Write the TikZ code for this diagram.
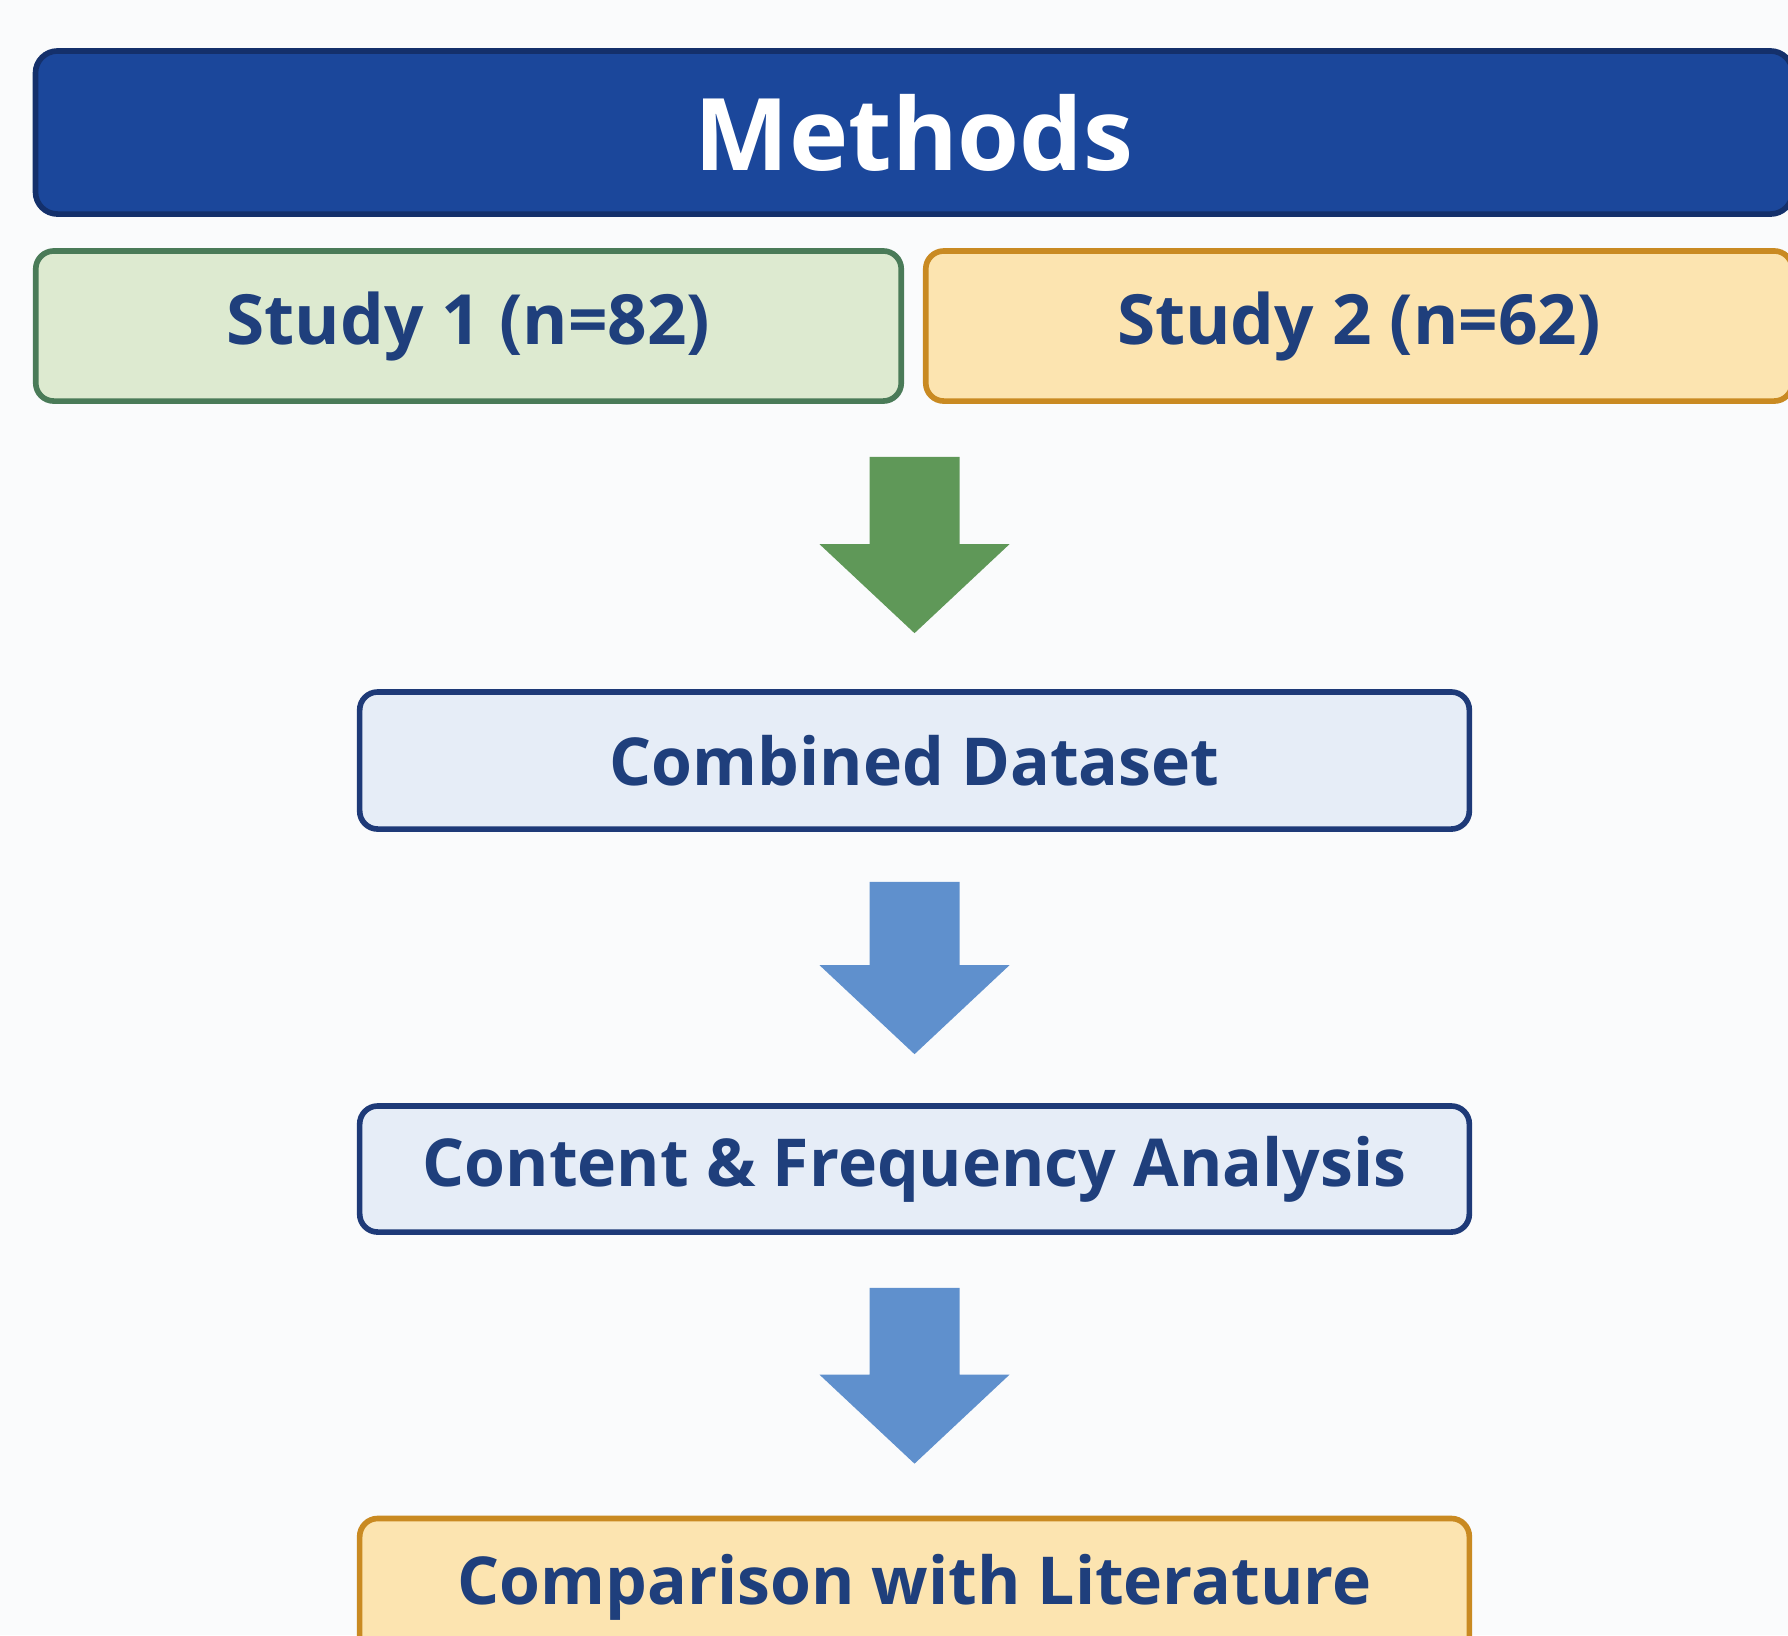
\documentclass[tikz,border=0pt]{standalone}
\usepackage{fontspec}
\setmainfont{Open Sans}
\usetikzlibrary{calc}

\definecolor{pagebg}{HTML}{FAFBFC}
\definecolor{headblue}{HTML}{1B479B}
\definecolor{headline}{HTML}{14306B}
\definecolor{textblue}{HTML}{1F3F7C}
\definecolor{greenfill}{HTML}{DDEAD0}
\definecolor{greenline}{HTML}{4A7B58}
\definecolor{orangefill}{HTML}{FCE4B0}
\definecolor{orangeline}{HTML}{C98A22}
\definecolor{stepfill}{HTML}{E6EDF7}
\definecolor{stepline}{HTML}{1E3A78}
\definecolor{greenarrow}{HTML}{5F9858}
\definecolor{bluearrow}{HTML}{5F90CD}

\tikzset{
	box/.style={draw, line width=1.6pt, rounded corners=0.18cm, inner sep=0pt,
		text=textblue, font=\bfseries\fontsize{18.8}{22}\selectfont},
	headbox/.style={box, fill=headblue, draw=headline, text=white,
		rounded corners=0.22cm, font=\bfseries\fontsize{28.5}{34}\selectfont},
	studybox/.style={box, minimum width=8.65cm, minimum height=1.5cm,
		font=\bfseries\fontsize{19.7}{24}\selectfont},
	stepbox/.style={box, fill=stepfill, draw=stepline, minimum width=11.09cm}
}

% block arrow: colour, top of shaft, tip
\newcommand{\blockarrow}[3]{%
	\fill[#1] ($(#2)+(-45,0)$) -- ($(#2)+(45,0)$) -- ($(#3)+(45,-89)$)
		-- ($(#3)+(95,-89)$) -- (#3) -- ($(#3)+(-95,-89)$)
		-- ($(#3)+(-45,-89)$) -- cycle;}

\begin{document}
\begin{tikzpicture}[x=0.01cm, y=-0.01cm]
\useasboundingbox (0,0) rectangle (1788,1635);
\clip (0,0) rectangle (1788,1635);
\fill[pagebg] (0,0) rectangle (1788,1635);

\node[headbox, minimum width=17.56cm, minimum height=1.63cm] (head) at (914,132.5) {Methods};

\node[studybox, fill=greenfill, draw=greenline] (study1) at (468.5,326) {Study 1 (n=82)};
\node[studybox, fill=orangefill, draw=orangeline, minimum width=8.66cm] (study2) at (1359,326) {Study 2 (n=62)};

\node[stepbox, minimum height=1.37cm] (comb) at (914.5,760.5) {Combined Dataset};
\node[stepbox, minimum height=1.26cm] (anal) at (914.5,1169) {Content \& Frequency Analysis};
\node[stepbox, fill=orangefill, draw=orangeline, minimum height=1.37cm] (lit) at (914.5,1587) {Comparison with Literature};

\coordinate (a1) at ($(comb.north |- study1.south)+(0,53)$);
\coordinate (t1) at ($(comb.north)+(0,-56)$);
\coordinate (a2) at ($(comb.south)+(0,50)$);
\coordinate (t2) at ($(anal.north)+(0,-49)$);
\coordinate (a3) at ($(anal.south)+(0,53)$);
\coordinate (t3) at ($(lit.north)+(0,-52)$);

\blockarrow{greenarrow}{a1}{t1}
\blockarrow{bluearrow}{a2}{t2}
\blockarrow{bluearrow}{a3}{t3}
\end{tikzpicture}
\end{document}
